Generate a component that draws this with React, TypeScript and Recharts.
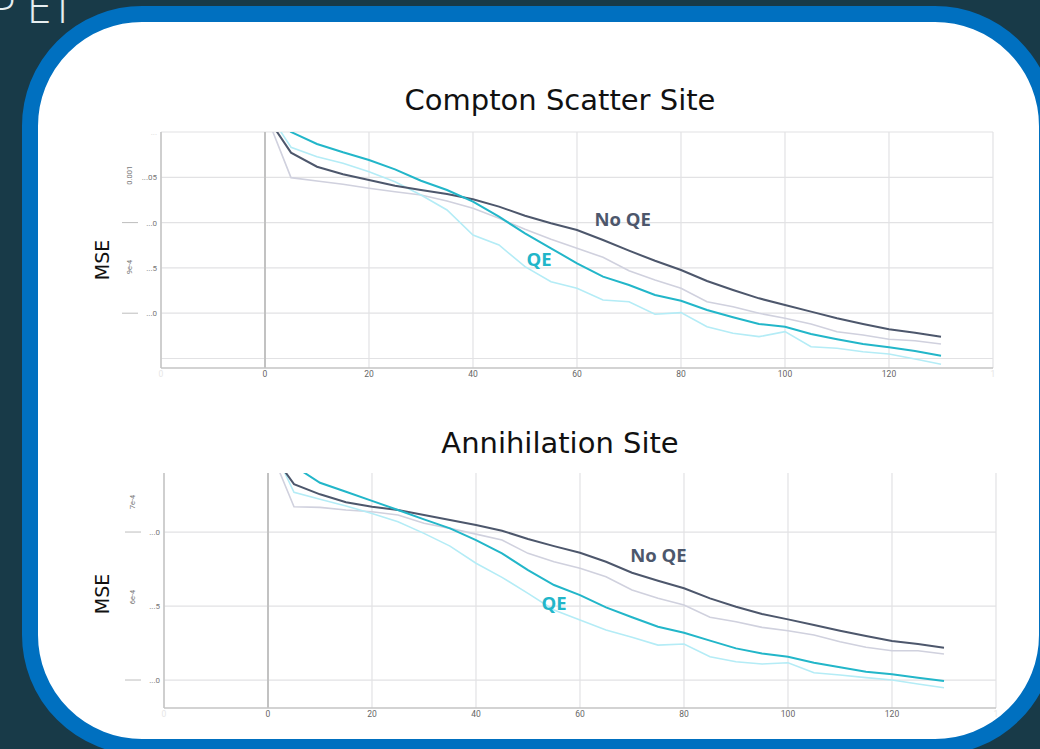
import type React from 'react'
import {
  CartesianGrid,
  Line,
  LineChart,
  ReferenceDot,
  ReferenceLine,
  XAxis,
  YAxis
} from 'recharts'

// MSE em unidades de 1e-4, uma amostra a cada 5 épocas
const EPOCAS = [0, 5, 10, 15, 20, 25, 30, 35, 40, 45, 50, 55, 60, 65, 70, 75, 80, 85, 90, 95, 100, 105, 110, 115, 120, 125, 130]

const COMPTON_NO_QE = [11.199, 10.772, 10.617, 10.533, 10.47, 10.407, 10.36, 10.316, 10.257, 10.176, 10.076, 9.992, 9.918, 9.808, 9.69, 9.579, 9.477, 9.355, 9.256, 9.164, 9.091, 9.017, 8.944, 8.881, 8.822, 8.785, 8.741]
const COMPTON_NO_QE_BRUTO = [11.221, 10.496, 10.459, 10.423, 10.379, 10.341, 10.305, 10.238, 10.158, 10.047, 9.926, 9.816, 9.716, 9.617, 9.469, 9.366, 9.275, 9.127, 9.072, 8.999, 8.944, 8.881, 8.796, 8.759, 8.712, 8.696, 8.66]
const COMPTON_QE = [11.298, 11.0, 10.868, 10.776, 10.691, 10.588, 10.462, 10.36, 10.231, 10.065, 9.882, 9.716, 9.551, 9.403, 9.311, 9.201, 9.138, 9.035, 8.955, 8.881, 8.851, 8.77, 8.712, 8.66, 8.624, 8.583, 8.531]
const COMPTON_QE_BRUTO = [11.27, 10.831, 10.727, 10.655, 10.562, 10.451, 10.305, 10.139, 9.863, 9.753, 9.513, 9.348, 9.275, 9.146, 9.127, 8.988, 9.006, 8.851, 8.778, 8.741, 8.796, 8.63, 8.613, 8.575, 8.55, 8.494, 8.436]

const ANIQ_NO_QE = [7.568, 7.324, 7.255, 7.201, 7.171, 7.149, 7.115, 7.081, 7.047, 7.009, 6.953, 6.905, 6.86, 6.799, 6.725, 6.671, 6.62, 6.552, 6.495, 6.446, 6.41, 6.372, 6.333, 6.297, 6.264, 6.243, 6.218]
const ANIQ_NO_QE_BRUTO = [7.595, 7.171, 7.167, 7.149, 7.137, 7.115, 7.059, 7.025, 6.986, 6.946, 6.856, 6.799, 6.755, 6.698, 6.608, 6.552, 6.507, 6.424, 6.394, 6.356, 6.333, 6.304, 6.259, 6.221, 6.198, 6.198, 6.176]
const ANIQ_QE = [7.757, 7.446, 7.333, 7.272, 7.211, 7.149, 7.086, 7.025, 6.946, 6.856, 6.743, 6.642, 6.574, 6.491, 6.424, 6.36, 6.32, 6.266, 6.214, 6.18, 6.157, 6.117, 6.086, 6.056, 6.039, 6.016, 5.993]
const ANIQ_QE_BRUTO = [7.642, 7.268, 7.221, 7.176, 7.126, 7.07, 6.991, 6.905, 6.789, 6.694, 6.586, 6.473, 6.405, 6.338, 6.289, 6.236, 6.243, 6.157, 6.124, 6.108, 6.117, 6.049, 6.034, 6.016, 6.0, 5.973, 5.948]

const TICKS_X = [-20, 0, 20, 40, 60, 80, 100, 120, 140]
const ROTULOS_X = ['0', '0', '20', '40', '60', '80', '100', '120', '1']

const TICKS_Y_COMPTON = [8.5, 9, 9.5, 10, 10.5, 11]
const ROTULOS_Y_COMPTON = ['', '...0', '...5', '...0', '...05', '...']
const ROTULOS_EXP_COMPTON = ['', '', '9e-4', '', '0.001', '']

const TICKS_Y_ANIQ = [6, 6.5, 7]
const ROTULOS_Y_ANIQ = ['...0', '...5', '...0']
const ROTULOS_EXP_ANIQ = ['', '6e-4', '7e-4']

const COR_FUNDO = '#183a48'
const COR_AZUL = '#0070c0'
const COR_NO_QE = '#4d576c'
const COR_NO_QE_BRUTO = '#d0d1de'
const COR_QE = '#22b6c9'
const COR_QE_BRUTO = '#b4ecf6'
const COR_GRADE = '#e2e2e4'
const FONTE = '"Open Sans", "DejaVu Sans", sans-serif'
const FONTE_TITULO = '"DejaVu Sans", "Open Sans", sans-serif'

type Ponto = { x: number; noQe: number; noQeBruto: number; qe: number; qeBruto: number }

function montar(a: number[], b: number[], c: number[], d: number[]): Ponto[] {
  return EPOCAS.map((x, i) => ({ x, noQe: a[i], noQeBruto: b[i], qe: c[i], qeBruto: d[i] }))
}

const dadosCompton = montar(COMPTON_NO_QE, COMPTON_NO_QE_BRUTO, COMPTON_QE, COMPTON_QE_BRUTO)
const dadosAniq = montar(ANIQ_NO_QE, ANIQ_NO_QE_BRUTO, ANIQ_QE, ANIQ_QE_BRUTO)

function TickX(props: any): React.JSX.Element {
  const { x, y, payload } = props
  const i = TICKS_X.indexOf(payload.value)
  const borda = i === 0 || i === TICKS_X.length - 1
  return (
    <text x={x} y={y + 9} textAnchor="middle" fontSize={8.5} fontFamily="Roboto, sans-serif" fill={borda ? '#e6e6e6' : '#666'}>
      {ROTULOS_X[i]}
    </text>
  )
}

function fazerTickY(ticks: number[], rotulos: string[], exps: string[], deslocExp: number[], tracos: boolean[]) {
  return function TickY(props: any): React.JSX.Element {
    const { x, y, payload } = props
    const i = ticks.indexOf(payload.value)
    const exp = exps[i]
    const ultimo = i === ticks.length - 1 && rotulos[i] === '...'
    return (
      <g>
        <text x={x - 4} y={y + 3} textAnchor="end" fontSize={8} fontFamily="Roboto, sans-serif" fill={ultimo ? '#d8d8d8' : '#777'}>
          {rotulos[i]}
        </text>
        {tracos[i] && <line x1={x - 39} x2={x - 23} y1={y} y2={y} stroke="#bdbdbd" strokeWidth={1} />}
        {exp && (
          <text
            x={x - 31}
            y={y + deslocExp[i]}
            transform={`rotate(-90 ${x - 31} ${y + deslocExp[i]})`}
            textAnchor="middle"
            dominantBaseline="central"
            fontSize={7.5}
            fontFamily="Roboto, sans-serif"
            fill="#777"
          >
            {exp}
          </text>
        )}
      </g>
    )
  }
}

const TickYCompton = fazerTickY(TICKS_Y_COMPTON, ROTULOS_Y_COMPTON, ROTULOS_EXP_COMPTON, [0, 0, -1, 0, -2, 0], [false, true, false, true, false, false])
const TickYAniq = fazerTickY(TICKS_Y_ANIQ, ROTULOS_Y_ANIQ, ROTULOS_EXP_ANIQ, [0, -9, -30], [true, false, true])

type PropsGrafico = {
  dados: Ponto[]
  dominioY: [number, number]
  ticksY: number[]
  tickY: (p: any) => React.JSX.Element
  margem: { top: number; right: number; bottom: number; left: number }
  altura: number
  posNoQe: [number, number]
  posQe: [number, number]
}

function Grafico({ dados, dominioY, ticksY, tickY, margem, altura, posNoQe, posQe }: PropsGrafico): React.JSX.Element {
  return (
    <LineChart width={1040} height={altura} data={dados} margin={margem}>
      <CartesianGrid stroke={COR_GRADE} strokeWidth={1.2} horizontal={false} />
      {/* grade horizontal só nas marcas do eixo Y */}
      {ticksY.map((t) => (
        <ReferenceLine key={t} y={t} stroke={COR_GRADE} strokeWidth={1.2} />
      ))}
      <XAxis
        type="number"
        dataKey="x"
        domain={[-20, 140]}
        ticks={TICKS_X}
        allowDataOverflow
        tickLine={false}
        tickSize={0}
        tickMargin={0}
        height={20}
        stroke="#c4c4c4"
        strokeWidth={1.5}
        tick={TickX}
      />
      <YAxis
        type="number"
        domain={dominioY}
        ticks={ticksY}
        allowDataOverflow
        tickLine={false}
        tickSize={0}
        tickMargin={0}
        width={40}
        stroke="#c4c4c4"
        strokeWidth={1.5}
        tick={tickY}
      />
      <ReferenceLine x={0} stroke="#c2c2c2" strokeWidth={2} />
      <Line type="linear" dataKey="noQeBruto" stroke={COR_NO_QE_BRUTO} strokeWidth={1.6} dot={false} isAnimationActive={false} />
      <Line type="linear" dataKey="qeBruto" stroke={COR_QE_BRUTO} strokeWidth={1.6} dot={false} isAnimationActive={false} />
      <Line type="linear" dataKey="noQe" stroke={COR_NO_QE} strokeWidth={2} dot={false} isAnimationActive={false} />
      <Line type="linear" dataKey="qe" stroke={COR_QE} strokeWidth={2} dot={false} isAnimationActive={false} />
      <ReferenceDot
        x={posNoQe[0]}
        y={posNoQe[1]}
        r={0}
        fill="none"
        stroke="none"
        label={{ value: 'No QE', position: 'center', fill: COR_NO_QE, fontSize: 18.5, fontWeight: 700, fontFamily: FONTE }}
      />
      <ReferenceDot
        x={posQe[0]}
        y={posQe[1]}
        r={0}
        fill="none"
        stroke="none"
        label={{ value: 'QE', position: 'center', fill: COR_QE, fontSize: 18.5, fontWeight: 700, fontFamily: FONTE }}
      />
    </LineChart>
  )
}

const estiloTitulo: React.CSSProperties = {
  position: 'absolute',
  left: 0,
  width: 1120,
  textAlign: 'center',
  fontFamily: FONTE_TITULO,
  fontSize: 29,
  color: '#111',
  lineHeight: '32px'
}

const estiloMse: React.CSSProperties = {
  position: 'absolute',
  fontFamily: FONTE_TITULO,
  fontSize: 19,
  color: '#111',
  transform: 'rotate(-90deg)',
  transformOrigin: 'center',
  width: 60,
  textAlign: 'center',
  lineHeight: '24px'
}

export default function App(): React.JSX.Element {
  return (
    <div style={{ position: 'absolute', left: 0, top: 0, width: 1040, height: 749, overflow: 'hidden', background: COR_FUNDO }}>
      <svg width={200} height={40} style={{ position: 'absolute', left: 0, top: 0 }}>
        <text y={23} fontSize={44} fontFamily={FONTE} fontWeight={300} fill="#e6eef1">
          <tspan x={-10}>P</tspan>
          <tspan x={27}>E</tspan>
          <tspan x={51}>T</tspan>
        </text>
      </svg>
      <div
        style={{
          position: 'absolute',
          left: 22,
          top: 6,
          width: 1033,
          height: 749,
          boxSizing: 'border-box',
          border: `16px solid ${COR_AZUL}`,
          borderRadius: 120,
          background: '#fff'
        }}
      />
      <div style={{ ...estiloTitulo, top: 84 }}>Compton Scatter Site</div>
      <div style={{ ...estiloTitulo, top: 427 }}>Annihilation Site</div>
      <div style={{ ...estiloMse, left: 72, top: 248 }}>MSE</div>
      <div style={{ ...estiloMse, left: 72, top: 582 }}>MSE</div>
      <div style={{ position: 'absolute', left: 0, top: 0 }}>
        <Grafico
          dados={dadosCompton}
          dominioY={[8.395, 11]}
          ticksY={TICKS_Y_COMPTON}
          tickY={TickYCompton}
          margem={{ top: 132, right: 47, bottom: 12, left: 121 }}
          altura={400}
          posNoQe={[68.8, 10.03]}
          posQe={[52.7, 9.593]}
        />
      </div>
      <div style={{ position: 'absolute', left: 0, top: 400 }}>
        <Grafico
          dados={dadosAniq}
          dominioY={[5.811, 7.399]}
          ticksY={TICKS_Y_ANIQ}
          tickY={TickYAniq}
          margem={{ top: 73, right: 44, bottom: 21, left: 124 }}
          altura={349}
          posNoQe={[75.1, 6.841]}
          posQe={[55, 6.517]}
        />
      </div>
    </div>
  )
}
